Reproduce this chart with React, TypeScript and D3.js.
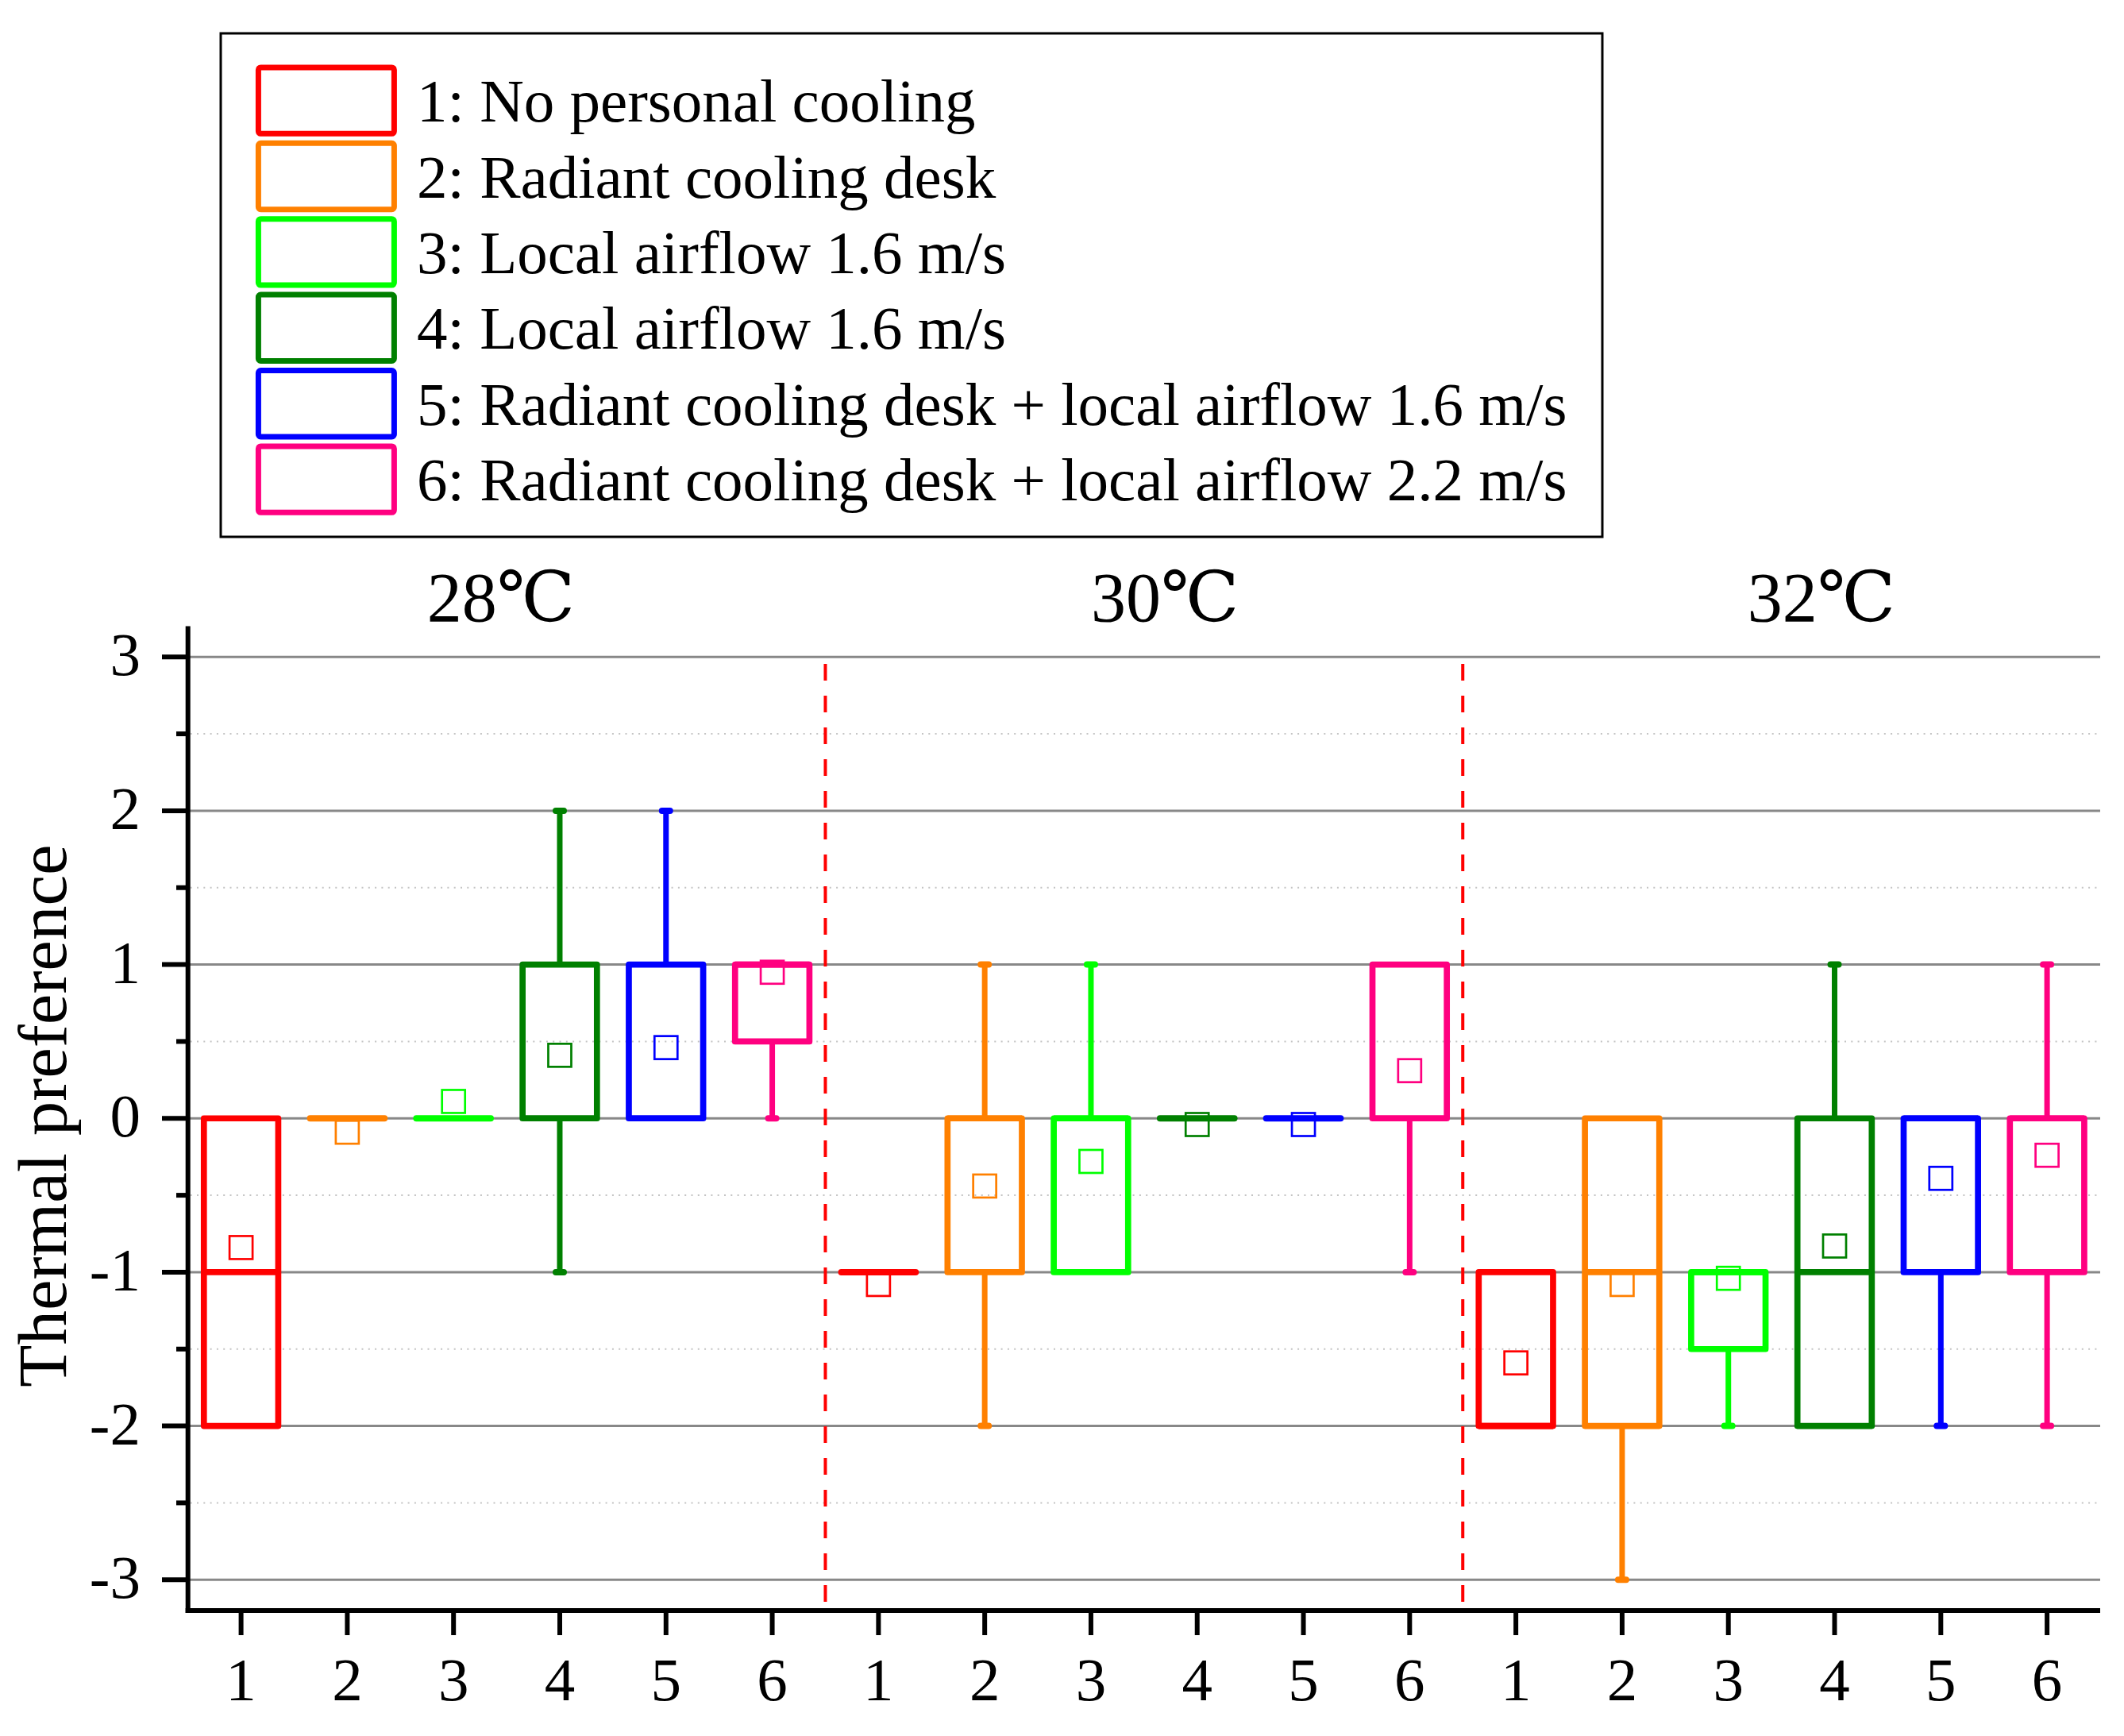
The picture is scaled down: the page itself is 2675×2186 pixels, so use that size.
import React from "react";
import * as d3 from "d3";

const groupLabels = ["28℃", "30℃", "32℃"];
const groupLabelPos = [2.75, 9.0, 15.18];
const treatmentTicks = ["1", "2", "3", "4", "5", "6"];
const legendLabels = [
  "1: No personal cooling",
  "2: Radiant cooling desk",
  "3: Local airflow 1.6 m/s",
  "4: Local airflow 1.6 m/s",
  "5: Radiant cooling desk + local airflow 1.6 m/s",
  "6: Radiant cooling desk + local airflow 2.2 m/s",
];
const colors = ["#FF0000", "#FF8000", "#00FF00", "#008000", "#0000FF", "#FF0080"];

// 18 boxes: 3 temperatures x 6 treatments
const whiskerLow = [-2, 0, 0, -1, 0, 0, -1, -2, -1, 0, 0, -1, -2, -3, -2, -2, -2, -2];
const q1 = [-2, 0, 0, 0, 0, 0.5, -1, -1, -1, 0, 0, 0, -2, -2, -1.5, -2, -1, -1];
const median = [-1, 0, 0, 0, 0, 1, -1, 0, 0, 0, 0, 0, -2, -1, -1, -1, 0, 0];
const q3 = [0, 0, 0, 1, 1, 1, -1, 0, 0, 0, 0, 1, -1, 0, -1, 0, 0, 0];
const whiskerHigh = [0, 0, 0, 2, 2, 1, -1, 1, 1, 0, 0, 1, -1, 0, -1, 1, 0, 1];
const means = [-0.84, -0.09, 0.11, 0.41, 0.46, 0.95, -1.08, -0.44, -0.28, -0.04, -0.04, 0.31, -1.59, -1.08, -1.04, -0.83, -0.39, -0.24];

const yMajor = [-3, -2, -1, 0, 1, 2, 3];
const yMinor = [-2.5, -1.5, -0.5, 0.5, 1.5, 2.5];
const dividers = [6.5, 12.5];

const W = 2675;
const H = 2186;
const FONT = "'Liberation Serif', 'Times New Roman', 'DejaVu Serif', 'Noto Sans CJK SC', serif";

export default function App() {
  const x = d3.scaleLinear().domain([0.5, 18.5]).range([236.7, 2645]);
  const y = d3.scaleLinear().domain([-3.2, 3.2]).range([2028, 788.5]);
  const boxW = x(0.7) - x(0);
  const n = q1.length;
  const idx = d3.range(n);
  const BS = 7.7;

  return (
    <div>
      <style>{`body{margin:0;background:#fff}`}</style>
      <svg width={W} height={H} style={{ display: "block" }} fontFamily={FONT}>
        <rect x={0} y={0} width={W} height={H} fill="#fff" />

        {/* legend */}
        <rect x={278} y={42} width={1740} height={634} fill="#fff" stroke="#000" strokeWidth={3} />
        {legendLabels.map((t, i) => {
          const cy = 126.6 + i * 95.4;
          return (
            <g key={t}>
              <rect x={325.4} y={cy - 41.7} width={171} height={83.4} rx={3} fill="none" stroke={colors[i]} strokeWidth={7} />
              <text x={525} y={cy + 26.5} fontSize={77} fill="#000">{t}</text>
            </g>
          );
        })}

        {/* group titles */}
        {groupLabels.map((g, i) => (
          <text key={g} x={x(groupLabelPos[i])} y={781.7} fontSize={88} fill="#000">{g}</text>
        ))}

        {/* grid */}
        {yMinor.map((v) => (
          <line key={"mn" + v} x1={x(0.5) + 3} x2={x(18.5)} y1={y(v)} y2={y(v)} stroke="#c4c4c4" strokeWidth={2} strokeDasharray="2 6.3" />
        ))}
        {yMajor.map((v) => (
          <line key={"mj" + v} x1={x(0.5)} x2={x(18.5)} y1={y(v)} y2={y(v)} stroke="#888" strokeWidth={3} />
        ))}

        {/* dividers */}
        {dividers.map((d) => (
          <line key={"dv" + d} x1={x(d)} x2={x(d)} y1={836} y2={y(-3.2)} stroke="#FF0000" strokeWidth={4} strokeDasharray="21 19" />
        ))}

        {/* boxes */}
        {idx.map((i) => {
          const c = colors[i % 6];
          const cx = x(i + 1);
          const x0 = cx - boxW / 2;
          const x1 = cx + boxW / 2;
          const flat = q1[i] === q3[i];
          const path = d3.path();
          path.moveTo(x0, y(q3[i]));
          path.lineTo(x1, y(q3[i]));
          path.lineTo(x1, y(q1[i]));
          path.lineTo(x0, y(q1[i]));
          path.closePath();
          return (
            <g key={"b" + i}>
              {whiskerHigh[i] > q3[i] && (
                <g>
                  <line x1={cx} x2={cx} y1={y(q3[i])} y2={y(whiskerHigh[i])} stroke={c} strokeWidth={7} />
                  <line x1={cx - 5} x2={cx + 5} y1={y(whiskerHigh[i])} y2={y(whiskerHigh[i])} stroke={c} strokeWidth={8} strokeLinecap="round" />
                </g>
              )}
              {whiskerLow[i] < q1[i] && (
                <g>
                  <line x1={cx} x2={cx} y1={y(q1[i])} y2={y(whiskerLow[i])} stroke={c} strokeWidth={7} />
                  <line x1={cx - 5} x2={cx + 5} y1={y(whiskerLow[i])} y2={y(whiskerLow[i])} stroke={c} strokeWidth={8} strokeLinecap="round" />
                </g>
              )}
              {flat ? (
                <line x1={x0} x2={x1} y1={y(q1[i])} y2={y(q1[i])} stroke={c} strokeWidth={8} strokeLinecap="round" />
              ) : (
                <g>
                  <path d={path.toString()} fill="none" stroke={c} strokeWidth={BS} strokeLinejoin="round" />
                  <line x1={x0} x2={x1} y1={y(median[i])} y2={y(median[i])} stroke={c} strokeWidth={BS} />
                </g>
              )}
              <rect x={cx - 14.5} y={y(means[i]) - 14.5} width={29} height={29} fill="none" stroke={c} strokeWidth={2.7} />
            </g>
          );
        })}

        {/* axes */}
        <line x1={x(0.5)} x2={x(0.5)} y1={788.5} y2={2031} stroke="#000" strokeWidth={6} />
        <line x1={x(0.5) - 3} x2={x(18.5)} y1={2028} y2={2028} stroke="#000" strokeWidth={6} />
        {yMajor.map((v) => (
          <g key={"yt" + v}>
            <line x1={204} x2={x(0.5)} y1={y(v)} y2={y(v)} stroke="#000" strokeWidth={6} />
            <text x={177} y={y(v) + 23} fontSize={77} textAnchor="end" fill="#000">{String(v)}</text>
          </g>
        ))}
        {yMinor.map((v) => (
          <line key={"ytm" + v} x1={222} x2={x(0.5)} y1={y(v)} y2={y(v)} stroke="#000" strokeWidth={6} />
        ))}
        {idx.map((i) => (
          <g key={"xt" + i}>
            <line x1={x(i + 1)} x2={x(i + 1)} y1={2028} y2={2059} stroke="#000" strokeWidth={6} />
            <text x={x(i + 1)} y={2140.5} fontSize={77} textAnchor="middle" fill="#000">{treatmentTicks[i % 6]}</text>
          </g>
        ))}

        <text transform={`translate(83,${1405}) rotate(-90)`} fontSize={87} textAnchor="middle" fill="#000">Thermal preference</text>
      </svg>
    </div>
  );
}
